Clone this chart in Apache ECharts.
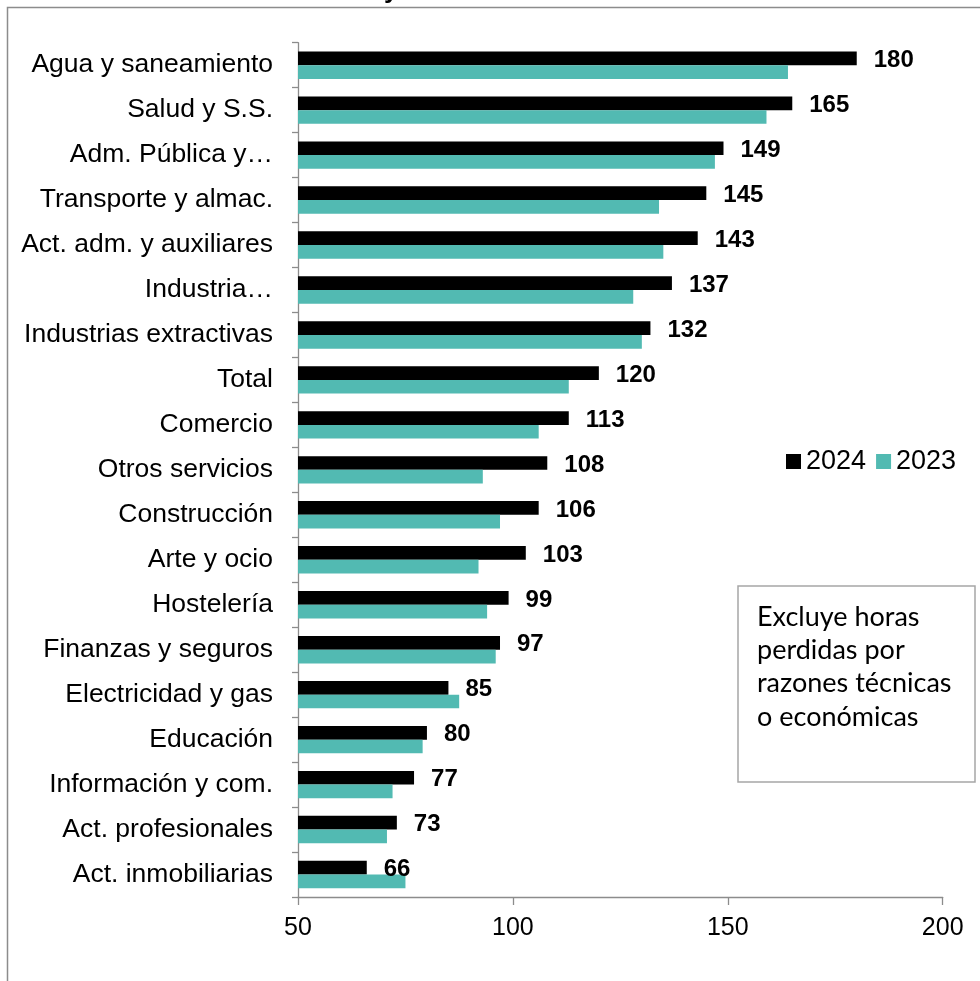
<!DOCTYPE html>
<html>
<head>
<meta charset="utf-8">
<script src="https://cdn.jsdelivr.net/npm/echarts@6/dist/echarts.min.js"></script>
<style>
  html, body { margin: 0; padding: 0; background: #fff; }
  #chart { width: 980px; height: 981px; }
</style>
</head>
<body>
<div id="chart"></div>
<script>
// Sector categories, top to bottom
var categories = [
  'Agua y saneamiento', 'Salud y S.S.', 'Adm. Pública y…', 'Transporte y almac.',
  'Act. adm. y auxiliares', 'Industria…', 'Industrias extractivas', 'Total',
  'Comercio', 'Otros servicios', 'Construcción', 'Arte y ocio', 'Hostelería',
  'Finanzas y seguros', 'Electricidad y gas', 'Educación', 'Información y com.',
  'Act. profesionales', 'Act. inmobiliarias'
];
var values2024 = [180, 165, 149, 145, 143, 137, 132, 120, 113, 108, 106, 103, 99, 97, 85, 80, 77, 73, 66];
var values2023 = [164, 159, 147, 134, 135, 128, 130, 113, 106, 93, 97, 92, 94, 96, 87.5, 79, 72, 70.7, 75];
var xTicks = [50, 100, 150, 200];
var noteLines = ['Excluye horas', 'perdidas por', 'razones técnicas', 'o económicas'];

var chart = echarts.init(document.getElementById('chart'), null, { renderer: 'canvas' });

var axisGray = '#8c8c8c';
var sans = 'Liberation Sans, Arial, sans-serif';

var noteChildren = [{
  type: 'rect',
  shape: { x: 0, y: 0, width: 237, height: 196 },
  style: { fill: '#fff', stroke: '#a6a6a6', lineWidth: 1.5 }
}];
noteLines.forEach(function (line, i) {
  noteChildren.push({
    type: 'text',
    x: 19, y: 31 + i * 33.3,
    style: { text: line, font: '27px Lato, sans-serif', fill: '#000', verticalAlign: 'middle', align: 'left' }
  });
});

chart.setOption({
  animation: false,
  backgroundColor: '#fff',
  grid: { left: 298, right: 37.3, top: 42.7, bottom: 84, containLabel: false },
  legend: {
    data: ['2024', '2023'],
    left: 781, top: 443,
    icon: 'rect', itemWidth: 15, itemHeight: 15, itemGap: 10,
    textStyle: { fontFamily: sans, fontSize: 27, color: '#000' }
  },
  xAxis: {
    type: 'value', min: xTicks[0], max: xTicks[xTicks.length - 1], interval: 50,
    axisLine: { show: true, lineStyle: { color: axisGray, width: 1.3 } },
    axisTick: { show: true, length: 8, lineStyle: { color: axisGray, width: 1.3 } },
    splitLine: { show: false },
    axisLabel: { fontFamily: sans, fontSize: 25, color: '#000', margin: 19 }
  },
  yAxis: {
    type: 'category', data: categories, inverse: true,
    axisLine: { show: true, lineStyle: { color: axisGray, width: 1.3 } },
    axisTick: { show: true, length: 6, lineStyle: { color: axisGray, width: 1.3 } },
    axisLabel: { fontFamily: sans, fontSize: 26.5, color: '#000', margin: 25 }
  },
  series: [
    {
      name: '2024', type: 'bar', data: values2024,
      barWidth: 13.7, barGap: '0%',
      itemStyle: { color: '#000' },
      label: {
        show: true, position: 'right', distance: 17, offset: [0, 2],
        fontFamily: sans, fontSize: 24, fontWeight: 'bold', color: '#000'
      }
    },
    {
      name: '2023', type: 'bar', data: values2023,
      barWidth: 13.7, barGap: '0%',
      itemStyle: { color: '#52bab2' }
    }
  ],
  graphic: [
    {
      type: 'rect', z: -1, silent: true,
      shape: { x: 7.5, y: 7.5, width: 1000, height: 1000 },
      style: { fill: 'none', stroke: '#8c8c8c', lineWidth: 1.5 }
    },
    {
      type: 'text', x: 384, y: 4,
      style: { text: 'y', font: 'bold 26px Liberation Sans, Arial, sans-serif', fill: '#000', verticalAlign: 'bottom', align: 'left' }
    },
    { type: 'group', x: 738, y: 586, children: noteChildren }
  ]
});
</script>
</body>
</html>
